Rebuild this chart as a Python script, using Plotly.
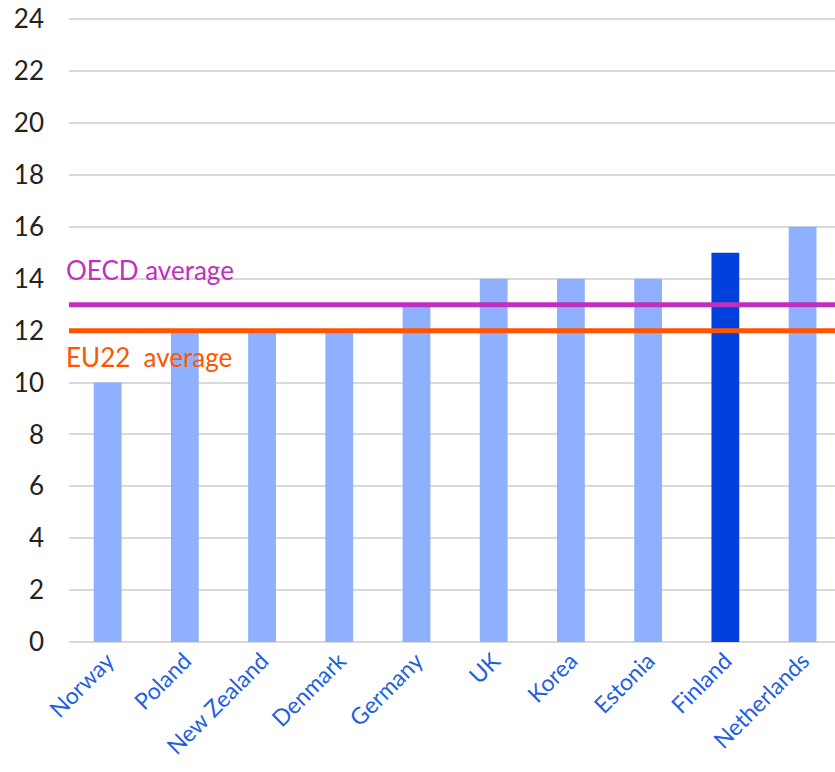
import plotly.graph_objects as go

countries = ["Norway", "Poland", "New Zealand", "Denmark", "Germany", "UK", "Korea", "Estonia", "Finland", "Netherlands"]
values = [10, 12, 12, 12, 13, 14, 14, 14, 15, 16]
highlight = "Finland"
oecd_avg = 13
eu22_avg = 12
y_ticks = list(range(0, 25, 2))

light = "#8FAFFF"
dark = "#0040DD"
bar_colors = [dark if c == highlight else light for c in countries]

fig = go.Figure()
fig.add_trace(go.Bar(x=countries, y=values, marker=dict(color=bar_colors, line=dict(width=0)),
                     width=0.36, showlegend=False, hoverinfo="x+y"))

fig.add_shape(type="line", xref="paper", x0=0, x1=1, yref="y", y0=oecd_avg, y1=oecd_avg,
              line=dict(color="#C030C0", width=5), layer="above")
fig.add_shape(type="line", xref="paper", x0=0, x1=1, yref="y", y0=eu22_avg, y1=eu22_avg,
              line=dict(color="#FF5500", width=5), layer="above")

fig.add_annotation(text="OECD average", xref="paper", x=-0.006, xanchor="left",
                   yref="y", y=oecd_avg + 1.33, yanchor="middle", showarrow=False,
                   font=dict(size=26, color="#C030C0"))
fig.add_annotation(text="EU22&nbsp;&nbsp;average", xref="paper", x=-0.006, xanchor="left",
                   yref="y", y=eu22_avg - 1.02, yanchor="middle", showarrow=False,
                   font=dict(size=26, color="#FF5500"))

fig.update_layout(
    width=835, height=772,
    margin=dict(l=69, r=0, t=18, b=130),
    plot_bgcolor="white", paper_bgcolor="white",
    font=dict(family="Lato, Open Sans, sans-serif"),
)
fig.update_xaxes(range=[-0.5, 9.42], tickangle=-45, tickfont=dict(size=23, color="#1F5FE0"),
                 showgrid=False, showline=False, ticks="", automargin=False)
fig.update_yaxes(range=[0, 24.05], tickvals=y_ticks, tickfont=dict(size=26, color="#222222"),
                 showgrid=True, gridcolor="#D9D9D9", gridwidth=1.5,
                 zeroline=True, zerolinecolor="#D9D9D9", zerolinewidth=2,
                 ticklabelstandoff=24, ticklabeloverflow="allow",
                 showline=False, automargin=False)

fig.write_html("out.html", config={"displayModeBar": False},
               post_script="document.body.style.margin='0';document.body.style.overflow='hidden';")
